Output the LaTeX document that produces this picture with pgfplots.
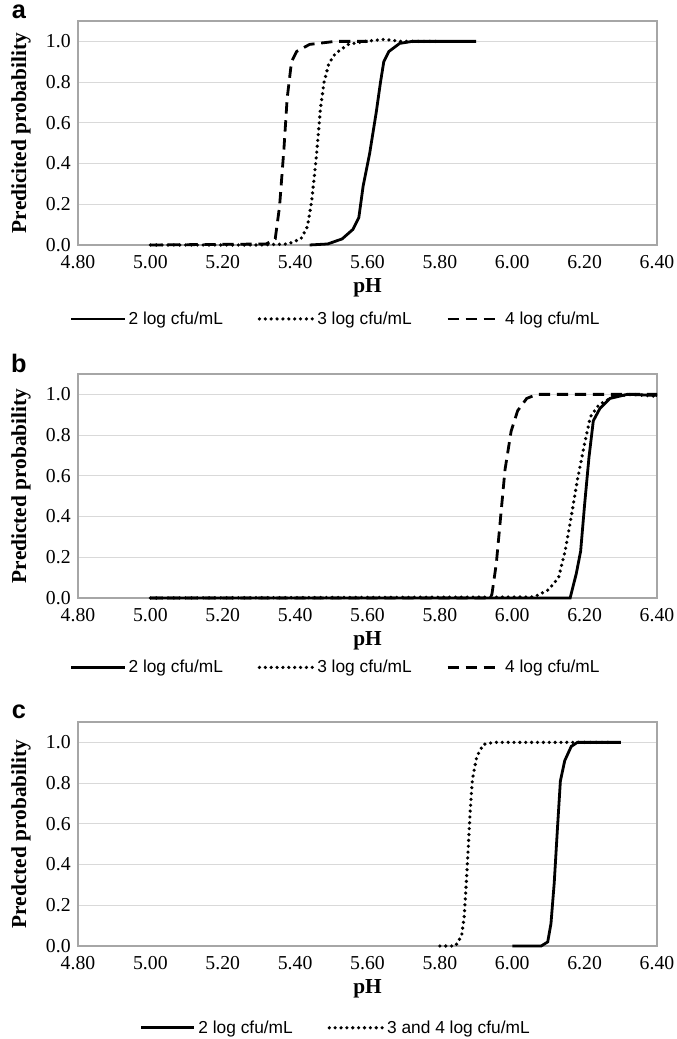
\documentclass[border=0pt]{standalone}
\usepackage{pgfplots}
\pgfplotsset{compat=1.18}
\usepackage{fontspec}
\setmainfont{Liberation Serif}
\newfontfamily\arial{Liberation Sans}

\definecolor{gridgray}{HTML}{D9D9D9}
\definecolor{boxgray}{HTML}{A6A6A6}

\pgfplotsset{
  panel/.style={
    scale only axis,
    width=434.25pt, height=168pt,
    xmin=4.8, xmax=6.4, ymin=0, ymax=1.1,
    xtick={4.8,5.0,5.2,5.4,5.6,5.8,6.0,6.2,6.4},
    ytick={0,0.2,0.4,0.6,0.8,1.0},
    major tick length=0pt,
    ymajorgrids,
    grid style={gridgray, line width=0.6pt},
    axis line style={boxgray, line width=0.8pt},
    /pgf/number format/assume math mode=true,
    xticklabel style={font=\fontsize{14.8}{16}\selectfont, yshift=-4pt,
      /pgf/number format/.cd, fixed, fixed zerofill, precision=2},
    yticklabel style={font=\fontsize{14.8}{16}\selectfont, xshift=-2pt,
      /pgf/number format/.cd, fixed, fixed zerofill, precision=1},
    xlabel={pH},
    xlabel style={font=\bfseries\fontsize{16}{18}\selectfont,
      at={(axis description cs:0.5,-0.19)}, anchor=center},
    ylabel style={font=\bfseries\fontsize{16}{18}\selectfont,
      at={(axis description cs:-0.0985,0.5)}, anchor=center},
    legend style={draw=none, legend columns=-1,
      font=\arial\fontsize{13}{15}\selectfont,
      /tikz/every even column/.append style={column sep=24pt}},
    legend image code/.code={\draw[#1] (0pt,0pt) -- (40pt,0pt);},
    clip=false,
  },
  c2/.style={black, line width=2.1pt},
  c3/.style={black, line width=2.7pt, line cap=round, dash pattern=on 0pt off 4.4pt},
  c4/.style={black, line width=2.1pt, dash pattern=on 8.5pt off 5pt},
}

\begin{document}
\begin{tikzpicture}
\path[use as bounding box] (0,0) rectangle (507pt,779.25pt);

% panel a
\begin{axis}[panel, at={(58.5pt,595.5pt)}, anchor=south west,
  ylabel={Predicited probability},
  legend style={at={(axis description cs:0.4456,-0.33)}, anchor=center}]
\addplot[c2] coordinates {
(5.44,0) (5.49,0.005) (5.53,0.03) (5.56,0.077) (5.576,0.134) (5.588,0.29)
(5.606,0.45) (5.624,0.65) (5.636,0.80) (5.645,0.90) (5.659,0.95) (5.689,0.99)
(5.724,1.0) (5.90,1.0)};
\addplot[c3] coordinates {
(5.00,0) (5.30,0) (5.38,0.005) (5.416,0.03) (5.434,0.09) (5.446,0.22)
(5.458,0.42) (5.47,0.67) (5.48,0.80) (5.493,0.89) (5.511,0.94) (5.547,0.985)
(5.594,1.0) (5.647,1.01) (5.689,1.0) (5.80,1.0)};
\addplot[c4] coordinates {
(5.00,0) (5.32,0.005) (5.345,0.03) (5.357,0.19) (5.369,0.47) (5.378,0.72)
(5.39,0.90) (5.404,0.95) (5.44,0.985) (5.511,1.0) (5.60,1.0)};
\legend{2 log cfu/mL, 3 log cfu/mL, 4 log cfu/mL}
\node[font=\arial\bfseries\fontsize{19}{21}\selectfont] at (axis description cs:-0.102,1.04) {a};
\end{axis}

% panel b
\begin{axis}[panel, at={(58.5pt,330.75pt)}, anchor=south west,
  ylabel={Predicted probability},
  legend style={at={(axis description cs:0.4456,-0.31)}, anchor=center}]
\addplot[c2] coordinates {
(5.00,0) (6.16,0) (6.177,0.12) (6.189,0.23) (6.20,0.46) (6.212,0.69)
(6.224,0.87) (6.242,0.93) (6.27,0.98) (6.318,1.0) (6.40,0.995)};
\addplot[c3] coordinates {
(5.00,0) (6.06,0.005) (6.10,0.04) (6.128,0.10) (6.146,0.23) (6.163,0.40)
(6.18,0.58) (6.20,0.76) (6.216,0.89) (6.24,0.95) (6.28,0.99) (6.33,1.0) (6.40,0.99)};
\addplot[c4] coordinates {
(5.00,0) (5.94,0) (5.944,0.02) (5.956,0.17) (5.968,0.40) (5.98,0.63)
(5.997,0.82) (6.015,0.92) (6.04,0.98) (6.068,1.0) (6.40,1.0)};
\legend{2 log cfu/mL, 3 log cfu/mL, 4 log cfu/mL}
\node[font=\arial\bfseries\fontsize{19}{21}\selectfont] at (axis description cs:-0.102,1.045) {b};
\end{axis}

% panel c
\begin{axis}[panel, at={(58.5pt,69.75pt)}, anchor=south west,
  ylabel={Predcted probability},
  legend style={at={(axis description cs:0.4456,-0.365)}, anchor=center}]
\addplot[c2] coordinates {
(6.00,0) (6.08,0) (6.098,0.02) (6.107,0.11) (6.116,0.31) (6.125,0.58)
(6.133,0.81) (6.145,0.91) (6.163,0.98) (6.18,1.0) (6.30,1.0)};
\addplot[c3] coordinates {
(5.80,0) (5.843,0) (5.86,0.05) (5.867,0.14) (5.873,0.31) (5.879,0.50)
(5.884,0.67) (5.89,0.82) (5.902,0.93) (5.92,0.99) (5.95,1.0) (6.28,1.0)};
\legend{2 log cfu/mL, 3 and 4 log cfu/mL}
\node[font=\arial\bfseries\fontsize{19}{21}\selectfont] at (axis description cs:-0.102,1.045) {c};
\end{axis}
\end{tikzpicture}
\end{document}
